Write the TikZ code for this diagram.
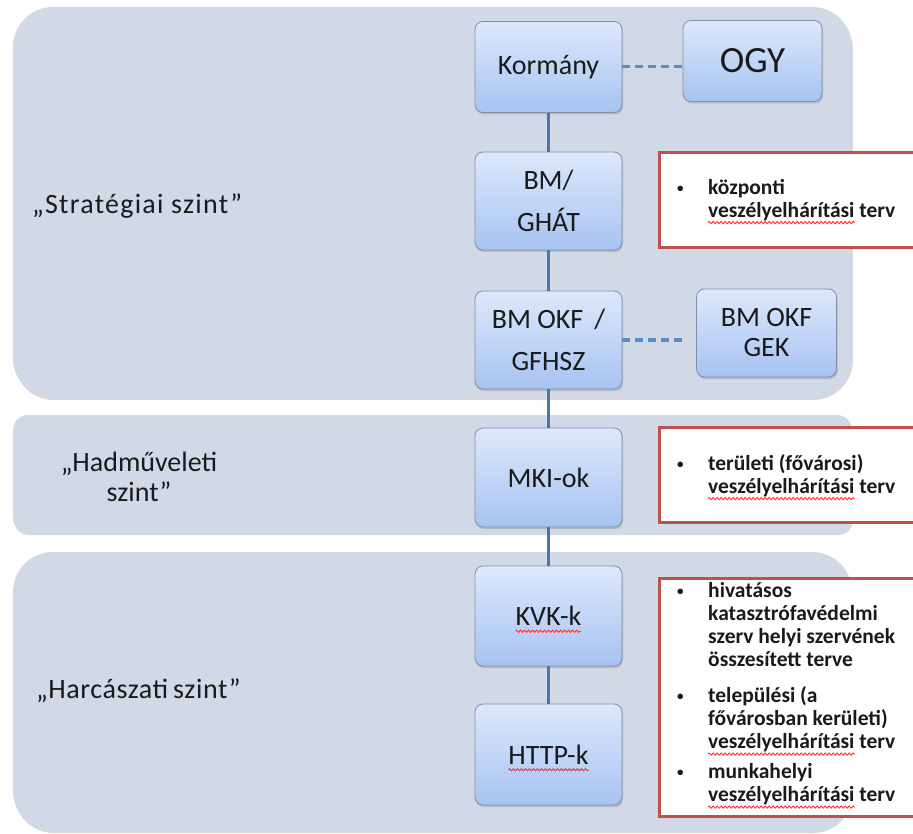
\documentclass[tikz,border=0pt]{standalone}
\usepackage{fontspec}
\setmainfont{Carlito}
\usetikzlibrary{shadows,decorations.pathmorphing}
\definecolor{bgregion}{HTML}{D1D8E6}
\definecolor{boxtop}{HTML}{DDE8FB}
\definecolor{boxbot}{HTML}{A7C3F2}
\definecolor{boxedge}{HTML}{7F8FA8}
\definecolor{vline}{HTML}{4A76A8}
\definecolor{dline}{HTML}{5B8BC8}
\definecolor{redbox}{HTML}{C0504D}
\definecolor{spellred}{HTML}{FF2020}
\definecolor{txt}{HTML}{1A1A1A}
\newsavebox\spellbox
\newlength\spellwd
\newcommand\spellwave[1]{\sbox\spellbox{#1}\setlength\spellwd{\wd\spellbox}%
  \rlap{\tikz[baseline=0pt, sharp corners]{\useasboundingbox (0pt,0pt);
    \draw[overlay, sharp corners, draw=spellred, fill=none, line width=0.8pt, decorate,
      decoration={zigzag, amplitude=1.1pt, segment length=4pt}] (0pt,-5.5pt) -- (\spellwd,-5.5pt);}}%
  \usebox\spellbox}
\tikzset{
  region/.style={fill=bgregion, drop shadow={shadow xshift=1pt, shadow yshift=-2pt, opacity=0.3}},
  unit/.style={draw=boxedge, line width=0.8pt, rounded corners=8pt, top color=boxtop, bottom color=boxbot,
    minimum width=147pt, minimum height=98pt, align=center, text=txt, inner sep=0pt,
    font=\fontsize{28}{42}\selectfont,
    drop shadow={shadow xshift=1pt, shadow yshift=-2pt, opacity=0.35}},
  notebox/.style={draw=redbox, line width=3pt, fill=white, minimum width=271pt, inner sep=0pt},
  notetext/.style={anchor=west, inner sep=0pt, text=txt, font=\fontsize{21.5}{23}\selectfont\bfseries},
  levellabel/.style={text=txt, inner sep=0pt, font=\fontsize{28}{30}\selectfont},
  vconn/.style={draw=vline, line width=3pt},
  dconn/.style={draw=dline, line width=3pt, dash pattern=on 8pt off 5pt}
}
\newcommand\bul{\makebox[32pt][l]{\hspace{1pt}\raisebox{2pt}{\fontsize{13}{13}\selectfont\textbullet}}}
\begin{document}
\begin{tikzpicture}[x=1pt,y=-1pt]
\useasboundingbox (0,0) rectangle (913,834);
\clip (0,0) rectangle (913,834);
\fill[white] (0,0) rectangle (913,834);
% level regions
\path[region, rounded corners=40pt] (13,7) rectangle (852,398);
\path[region, rounded corners=15pt] (13,415) rectangle (852,533);
\path[region, rounded corners=40pt] (13,552) rectangle (852,831);
% level labels
\node[levellabel, anchor=west] (lstrat) at (32,206) {\addfontfeatures{LetterSpace=4.5}„Stratégiai szint”};
\node[levellabel, align=center] (lhad) at (139,477) {„Hadműveleti\\szint”};
\node[levellabel, anchor=west] (lharc) at (36,691) {\addfontfeatures{LetterSpace=2}„Harcászati\hspace{5pt}szint”};
% units
\node[unit, minimum height=91pt] (korm) at (548.5,67) {Kormány};
\node[unit, minimum width=139pt, minimum height=81pt, font=\fontsize{37}{40}\selectfont] (ogy) at (752.5,61) {OGY};
\node[unit] (ghat) at (548.5,201) {BM/\\GHÁT};
\node[unit] (gfhsz) at (548.5,340) {BM OKF \,/\\GFHSZ};
\node[unit, minimum width=140pt, minimum height=88pt, font=\fontsize{28}{30}\selectfont] (gek) at (766.5,333) {BM OKF\\GEK};
\node[unit, minimum height=99pt] (mki) at (548.5,477.5) {MKI-ok};
\node[unit, minimum height=100pt] (kvk) at (548.5,616) {\spellwave{KVK-k}};
\node[unit, minimum height=101pt] (http) at (548.5,754.5) {\spellwave{HTTP-k}};
% connectors
\draw[vconn] (korm) -- (ghat);
\draw[vconn] (ghat) -- (gfhsz);
\draw[vconn] (gfhsz) -- (mki);
\draw[vconn] (mki) -- (kvk);
\draw[vconn] (kvk) -- (http);
\draw[dconn] (korm.east) -- (korm.east -| ogy.west);
\draw[dconn] (gfhsz.east) -- ([xshift=-14pt]gfhsz.east -| gek.west);
% note boxes
\node[notebox, minimum height=95pt] (na) at (794.5,200.5) {};
\node[notebox, minimum height=95pt] (nb) at (794.5,474.5) {};
\node[notebox, minimum height=238pt] (nc) at (794.5,697) {};
\node[notetext] (ta) at (676,201) {\begin{tabular}{@{}l@{}}
\bul központi\\
\hspace{32pt}\spellwave{veszélyelhárítási} terv
\end{tabular}};
\node[notetext] (tb) at (676,477) {\begin{tabular}{@{}l@{}}
\bul területi (fővárosi)\\
\hspace{32pt}\spellwave{veszélyelhárítási} terv
\end{tabular}};
\node[notetext] (tc) at (676,695) {\begin{tabular}{@{}l@{}}
\bul hivatásos\\
\hspace{32pt}katasztrófavédelmi\\
\hspace{32pt}szerv helyi szervének\\
\hspace{32pt}összesített terve\\[13pt]
\bul települési (a\\
\hspace{32pt}fővárosban kerületi)\\
\hspace{32pt}\spellwave{veszélyelhárítási} terv\\[7pt]
\bul munkahelyi\\
\hspace{32pt}\spellwave{veszélyelhárítási} terv
\end{tabular}};
\end{tikzpicture}
\end{document}
